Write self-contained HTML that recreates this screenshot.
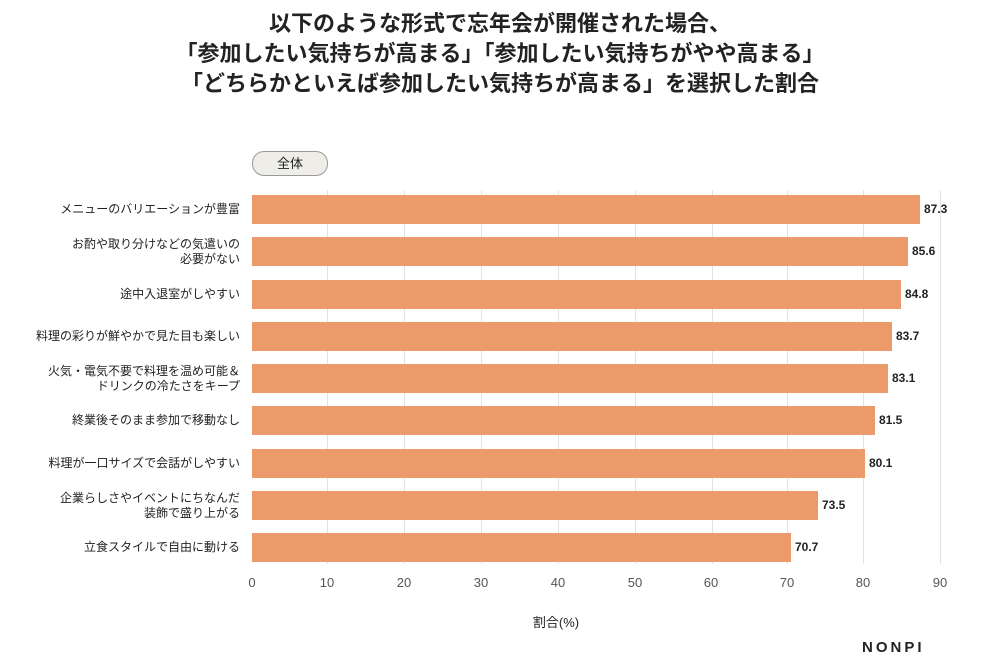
<!DOCTYPE html>
<html><head><meta charset="utf-8"><style>
body{margin:0;width:1000px;height:667px;background:#fff;font-family:"Liberation Sans","Noto Sans CJK JP",sans-serif;position:relative;overflow:hidden;color:#222}
.t{position:absolute;left:0;width:1000px;text-align:center;font-size:22px;font-weight:bold;line-height:30px}
.grid{position:absolute;top:190px;height:374px;width:1px;background:#e2e2e2}
.bar{position:absolute;left:252px;height:29px;background:#ea9b69}
.v{position:absolute;font-size:12px;font-weight:bold;color:#222}
.lab{position:absolute;right:760px;font-size:12px;text-align:right;line-height:15px;color:#222}
.tk{position:absolute;top:575px;font-size:13px;color:#555;width:30px;margin-left:-15px;text-align:center}
</style></head><body>
<div class="t" style="top:9px">以下のような形式で忘年会が開催された場合、</div>
<div class="t" style="top:39px">「参加したい気持ちが高まる」「参加したい気持ちがやや高まる」</div>
<div class="t" style="top:69px">「どちらかといえば参加したい気持ちが高まる」を選択した割合</div>
<div style="position:absolute;left:252px;top:151px;width:74px;height:23px;border:1px solid #999;border-radius:12px;background:#efede7;text-align:center;font-size:13px;line-height:23px">全体</div>
<div class="grid" style="left:327px"></div><div class="grid" style="left:404px"></div><div class="grid" style="left:481px"></div><div class="grid" style="left:558px"></div><div class="grid" style="left:635px"></div><div class="grid" style="left:712px"></div><div class="grid" style="left:787px"></div><div class="grid" style="left:863px"></div><div class="grid" style="left:940px"></div>
<div class="bar" style="top:195px;width:668px"></div><div class="v" style="left:924px;top:202px">87.3</div>
<div class="bar" style="top:237px;width:656px"></div><div class="v" style="left:912px;top:244px">85.6</div>
<div class="bar" style="top:280px;width:649px"></div><div class="v" style="left:905px;top:287px">84.8</div>
<div class="bar" style="top:322px;width:640px"></div><div class="v" style="left:896px;top:329px">83.7</div>
<div class="bar" style="top:364px;width:636px"></div><div class="v" style="left:892px;top:371px">83.1</div>
<div class="bar" style="top:406px;width:623px"></div><div class="v" style="left:879px;top:413px">81.5</div>
<div class="bar" style="top:449px;width:613px"></div><div class="v" style="left:869px;top:456px">80.1</div>
<div class="bar" style="top:491px;width:566px"></div><div class="v" style="left:822px;top:498px">73.5</div>
<div class="bar" style="top:533px;width:539px"></div><div class="v" style="left:795px;top:540px">70.7</div>
<div class="lab" style="top:202px">メニューのバリエーションが豊富</div>
<div class="lab" style="top:237px">お酌や取り分けなどの気遣いの<br>必要がない</div>
<div class="lab" style="top:287px">途中入退室がしやすい</div>
<div class="lab" style="top:329px">料理の彩りが鮮やかで見た目も楽しい</div>
<div class="lab" style="top:364px">火気・電気不要で料理を温め可能＆<br>ドリンクの冷たさをキープ</div>
<div class="lab" style="top:413px">終業後そのまま参加で移動なし</div>
<div class="lab" style="top:456px">料理が一口サイズで会話がしやすい</div>
<div class="lab" style="top:491px">企業らしさやイベントにちなんだ<br>装飾で盛り上がる</div>
<div class="lab" style="top:540px">立食スタイルで自由に動ける</div>
<div class="tk" style="left:252px">0</div><div class="tk" style="left:327px">10</div><div class="tk" style="left:404px">20</div><div class="tk" style="left:481px">30</div><div class="tk" style="left:558px">40</div><div class="tk" style="left:635px">50</div><div class="tk" style="left:711px">60</div><div class="tk" style="left:787px">70</div><div class="tk" style="left:863px">80</div><div class="tk" style="left:940px">90</div>
<div style="position:absolute;left:520px;top:612px;width:72px;text-align:center;font-size:13px">割合(%)</div>
<div style="position:absolute;left:862px;top:639px;font-size:15px;font-weight:bold;letter-spacing:3px">NONPI</div>
</body></html>
